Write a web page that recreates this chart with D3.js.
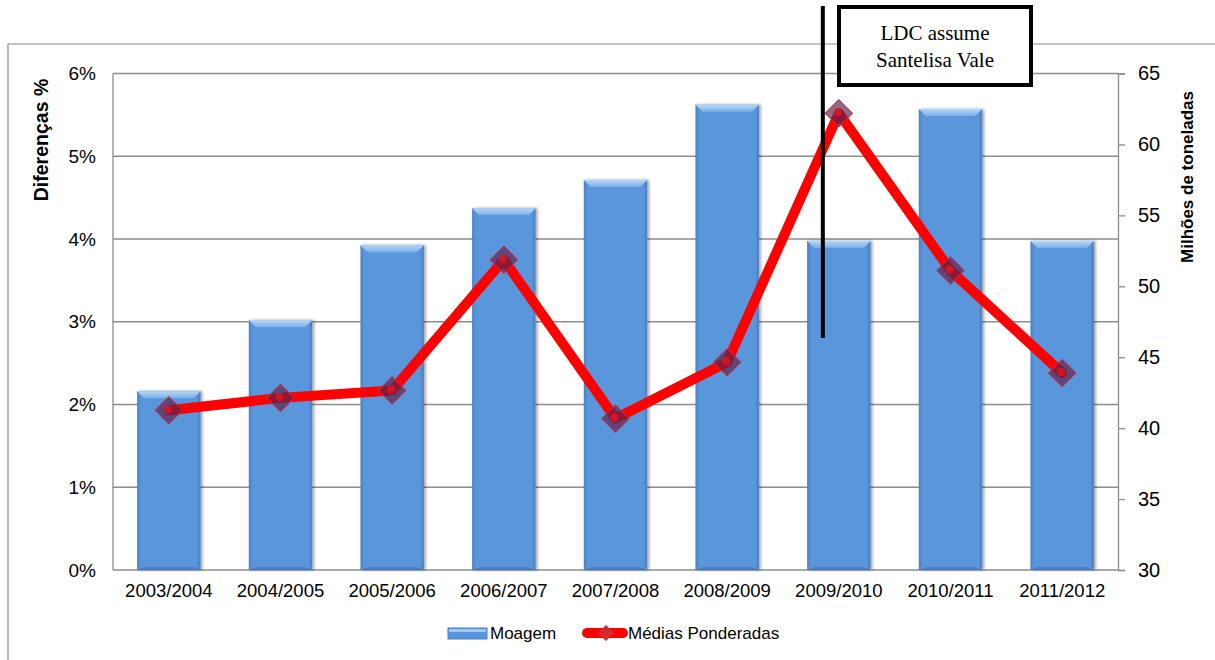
<!DOCTYPE html>
<html>
<head>
<meta charset="utf-8">
<script src="https://cdn.jsdelivr.net/npm/d3@7"></script>
<style>
  html, body { margin: 0; padding: 0; background: #fff; }
  svg { display: block; }
</style>
</head>
<body>
<svg id="chart" width="1215" height="660"></svg>
<script>
// ---- data ----
const categories = ["2003/2004","2004/2005","2005/2006","2006/2007","2007/2008","2008/2009","2009/2010","2010/2011","2011/2012"];
const moagem = [42.6, 47.6, 52.9, 55.5, 57.5, 62.8, 53.2, 62.5, 53.2];          // Milhões de toneladas (right axis)
const mediasPonderadas = [1.93, 2.08, 2.17, 3.75, 1.83, 2.51, 5.52, 3.62, 2.38]; // % (left axis)
const leftTicks = [0, 1, 2, 3, 4, 5, 6];
const rightTicks = [30, 35, 40, 45, 50, 55, 60, 65];
const seriesNames = ["Moagem", "Médias Ponderadas"];
const annotationLines = ["LDC assume", "Santelisa Vale"];
const annotationCategory = "2009/2010";

// ---- layout ----
const svg = d3.select("#chart");
const plot = { left: 113, right: 1118, top: 73.5, bottom: 570 };

const x = d3.scaleBand().domain(categories).range([plot.left, plot.right])
  .paddingInner(0.432).paddingOuter(0.216);
const yL = d3.scaleLinear().domain([0, 6]).range([plot.bottom, plot.top]);
const yR = d3.scaleLinear().domain([30, 65]).range([plot.bottom, plot.top]);

const defs = svg.append("defs");
const g1 = defs.append("linearGradient").attr("id", "barGrad").attr("x1", 0).attr("x2", 1).attr("y1", 0).attr("y2", 0);
g1.append("stop").attr("offset", "0%").attr("stop-color", "#4a7fc2");
g1.append("stop").attr("offset", "6%").attr("stop-color", "#5a96dc");
g1.append("stop").attr("offset", "94%").attr("stop-color", "#5a96dc");
g1.append("stop").attr("offset", "100%").attr("stop-color", "#4a7dbf");
const g2 = defs.append("linearGradient").attr("id", "bevelGrad").attr("x1", 0).attr("x2", 0).attr("y1", 0).attr("y2", 1);
g2.append("stop").attr("offset", "0%").attr("stop-color", "#b8d8f8");
g2.append("stop").attr("offset", "100%").attr("stop-color", "#79aeea");
const sh = defs.append("filter").attr("id", "shadow").attr("x", "-20%").attr("y", "-5%").attr("width", "140%").attr("height", "110%");
sh.append("feGaussianBlur").attr("in", "SourceAlpha").attr("stdDeviation", 1.5).attr("result", "b");
sh.append("feOffset").attr("dx", 1.5).attr("dy", 0).attr("result", "o");
sh.append("feComponentTransfer").append("feFuncA").attr("type", "linear").attr("slope", 0.35);
const merge = sh.append("feMerge");
merge.append("feMergeNode");
merge.append("feMergeNode").attr("in", "SourceGraphic");

// outer chart frame
svg.append("path").attr("d", `M8,660 L8,44 L1215,44`).attr("fill", "none").attr("stroke", "#8a8a8a").attr("stroke-width", 1.2);

// gridlines (left axis)
svg.append("g").selectAll("line").data(leftTicks).join("line")
  .attr("x1", plot.left).attr("x2", plot.right)
  .attr("y1", d => yL(d)).attr("y2", d => yL(d))
  .attr("stroke", "#8c8c8c").attr("stroke-width", 1.3);

// left axis line
svg.append("line").attr("x1", plot.left).attr("x2", plot.left).attr("y1", plot.top).attr("y2", plot.bottom)
  .attr("stroke", "#8c8c8c").attr("stroke-width", 1.3);

// bars
const bars = svg.append("g");
const bw = x.bandwidth();
categories.forEach((c, i) => {
  const bx = x(c), by = yR(moagem[i]), bh = plot.bottom - by;
  const g = bars.append("g").attr("filter", "url(#shadow)");
  g.append("rect").attr("x", bx).attr("y", by).attr("width", bw).attr("height", bh).attr("fill", "url(#barGrad)");
  const b = 7;
  g.append("path")
    .attr("d", `M${bx},${by} L${bx + bw},${by} L${bx + bw - b},${by + b} L${bx + b},${by + b} Z`)
    .attr("fill", "url(#bevelGrad)");
  g.append("path")
    .attr("d", `M${bx},${plot.bottom} L${bx + bw},${plot.bottom} L${bx + bw - b},${plot.bottom - 3} L${bx + b},${plot.bottom - 3} Z`)
    .attr("fill", "#4a7fc2");
});

// right axis
const rightAxis = d3.axisRight(yR).tickValues(rightTicks).tickSize(7).tickPadding(13);
const ra = svg.append("g").attr("transform", `translate(${plot.right},0)`).call(rightAxis);
ra.select(".domain").attr("stroke", "#8c8c8c").attr("stroke-width", 1.3);
ra.selectAll(".tick line").attr("stroke", "#8c8c8c").attr("stroke-width", 1.3);
ra.selectAll("text").attr("font-family", "Liberation Sans, Arial, sans-serif").attr("font-size", 20).attr("fill", "#000");

// left axis labels
const leftAxis = d3.axisLeft(yL).tickValues(leftTicks).tickSize(0).tickPadding(17).tickFormat(d => d + "%");
const la = svg.append("g").attr("transform", `translate(${plot.left},0)`).call(leftAxis);
la.select(".domain").remove();
la.selectAll("text").attr("font-family", "Liberation Sans, Arial, sans-serif").attr("font-size", 19).attr("fill", "#000");

// x axis labels
const bottomAxis = d3.axisBottom(x).tickSize(0).tickPadding(14);
const xa = svg.append("g").attr("transform", `translate(0,${plot.bottom})`).call(bottomAxis);
xa.select(".domain").remove();
xa.selectAll("text").attr("font-family", "Liberation Sans, Arial, sans-serif").attr("font-size", 18.5).attr("fill", "#000");

// line series
const pts = categories.map((c, i) => [x(c) + bw / 2, yL(mediasPonderadas[i])]);
svg.append("path").datum(pts)
  .attr("d", d3.line())
  .attr("fill", "none").attr("stroke", "#ff0000").attr("stroke-width", 10)
  .attr("stroke-linejoin", "round").attr("stroke-linecap", "round");

// markers
const diamond = d3.symbol().type(d3.symbolSquare).size(370);
const mk = svg.append("g");
pts.forEach(p => {
  mk.append("path").attr("d", diamond())
    .attr("transform", `translate(${p[0]},${p[1]}) rotate(45)`)
    .attr("fill", "#5a2250").attr("fill-opacity", 0.68)
    .attr("stroke", "#b83040").attr("stroke-width", 1);
  mk.append("circle").attr("cx", p[0] - 1).attr("cy", p[1] - 1).attr("r", 4).attr("fill", "#ff1a1a").attr("opacity", 0.55);
});

// axis titles
svg.append("text")
  .attr("transform", `translate(48,140) rotate(-90)`)
  .attr("text-anchor", "middle")
  .attr("font-family", "Liberation Sans, Arial, sans-serif").attr("font-weight", "bold").attr("font-size", 19.5)
  .text("Diferenças %");
svg.append("text")
  .attr("transform", `translate(1193,177) rotate(-90)`)
  .attr("text-anchor", "middle")
  .attr("font-family", "Liberation Sans, Arial, sans-serif").attr("font-weight", "bold").attr("font-size", 17)
  .text("Milhões de toneladas");

// annotation
const ax = x(annotationCategory) + bw / 2 - 16;
svg.append("line").attr("x1", ax).attr("x2", ax).attr("y1", 6).attr("y2", 338)
  .attr("stroke", "#000").attr("stroke-width", 4);
svg.append("rect").attr("x", 839).attr("y", 7).attr("width", 192).attr("height", 78)
  .attr("fill", "#fff").attr("stroke", "#000").attr("stroke-width", 4);
svg.append("g").selectAll("text").data(annotationLines).join("text")
  .attr("x", 935).attr("y", (d, i) => 40 + i * 27)
  .attr("text-anchor", "middle")
  .attr("font-family", "Liberation Serif, Times New Roman, serif").attr("font-size", 21)
  .text(d => d);

// legend
const lg = svg.append("g");
lg.append("rect").attr("x", 448).attr("y", 628).attr("width", 39).attr("height", 11).attr("fill", "#5a96dc").attr("stroke", "#4a7fc2");
lg.append("rect").attr("x", 449).attr("y", 629).attr("width", 37).attr("height", 3).attr("fill", "#9fc8f3");
lg.append("text").attr("x", 490).attr("y", 639).attr("font-family", "Liberation Sans, Arial, sans-serif").attr("font-size", 17).text(seriesNames[0]);
lg.append("line").attr("x1", 587).attr("x2", 623).attr("y1", 633).attr("y2", 633)
  .attr("stroke", "#ff0000").attr("stroke-width", 10).attr("stroke-linecap", "round");
lg.append("path").attr("d", d3.symbol().type(d3.symbolSquare).size(110)())
  .attr("transform", `translate(606,633) rotate(45)`).attr("fill", "#d8282c").attr("stroke", "#c0303c");
lg.append("text").attr("x", 628).attr("y", 639).attr("font-family", "Liberation Sans, Arial, sans-serif").attr("font-size", 17).text(seriesNames[1]);
</script>
</body>
</html>
